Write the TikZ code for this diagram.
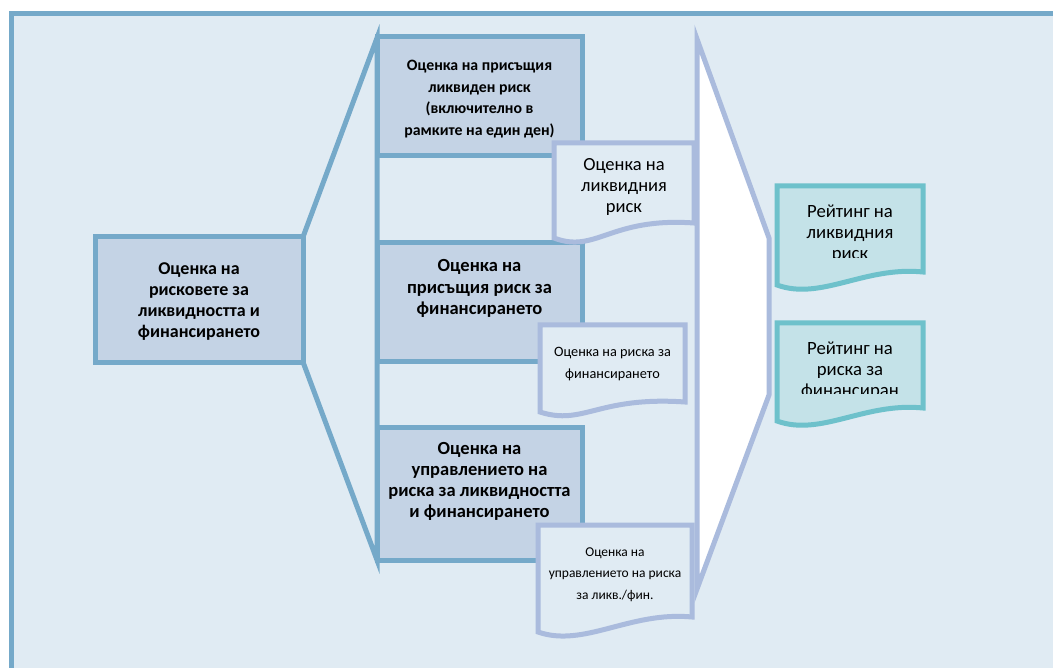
\documentclass[tikz,border=0pt]{standalone}
\usepackage{fontspec}
\setmainfont{Carlito}
\definecolor{bgc}{HTML}{E0EBF3}
\definecolor{steel}{HTML}{75A9C9}
\definecolor{boxfill}{HTML}{C4D3E5}
\definecolor{lav}{HTML}{AABBDD}
\definecolor{tealc}{HTML}{6EC1CB}
\definecolor{tealfill}{HTML}{C4E2E8}
\tikzset{
  frame/.style={draw=steel, fill=bgc, line width=5pt},
  funnel/.style={draw=steel, line width=5pt, line join=miter},
  bluebox/.style={draw=steel, fill=boxfill, line width=5pt, rectangle, inner sep=0pt},
  arrowshape/.style={draw=lav, fill=white, line width=5pt, line join=miter},
  docshape/.style={draw=lav, fill=bgc, line width=5pt, line join=miter},
  ratingshape/.style={draw=tealc, fill=tealfill, line width=5pt, line join=miter},
  txt/.style={align=center, inner sep=0pt, text=black}
}
\begin{document}
\begin{tikzpicture}[x=1pt,y=-1pt]
\useasboundingbox (0,0) rectangle (1053,668);
\clip (0,0) rectangle (1053,668);
% outer frame
\draw[frame] (11,13.5) rectangle (1090,700);
% funnel bracket
\draw[funnel] (303,237) -- (377,38) -- (377,560) -- (303,362);
% left box
\node[bluebox, minimum width=208pt, minimum height=126pt] (lbox) at (199,300) {};
\node[txt, font=\bfseries\fontsize{18}{21}\selectfont] (ltxt) at (199,302)
  {Оценка на\\рисковете за\\ликвидността и\\финансирането};
% column boxes
\node[bluebox, minimum width=205pt, minimum height=119pt] (b1) at (479.5,96.5) {};
\node[bluebox, minimum width=205pt, minimum height=119pt] (b2) at (479.5,302.5) {};
\node[bluebox, minimum width=205pt, minimum height=132pt] (b3) at (479.5,494) {};
\node[txt, font=\bfseries\fontsize{15.8}{21.5}\selectfont] (t1) at (479.5,99)
  {Оценка на присъщия\\ликвиден риск\\(включително в\\рамките на един ден)};
\node[txt, font=\bfseries\fontsize{18.5}{21.5}\selectfont] (t2) at (479.5,288.5)
  {Оценка на\\присъщия риск за\\финансирането};
\node[txt, font=\bfseries\fontsize{18.5}{21}\selectfont] (t3) at (479.5,481.5)
  {Оценка на\\управлението на\\риска за ликвидността\\и финансирането};
% white arrow
\draw[arrowshape] (697,39) -- (769,238) -- (769,395) -- (697,589) -- cycle;
% documents
\draw[docshape] (554,143) -- (694,143) -- (694,223)
  .. controls (610,223-6) and (596,238+16) .. (554,238) -- cycle;
\node[txt, font=\fontsize{18.5}{21}\selectfont] (d1) at (624,187)
  {Оценка на\\ликвидния\\риск};
\draw[docshape] (540,325) -- (685,325) -- (685,402)
  .. controls (598,402-6) and (583.5,412+14) .. (540,412) -- cycle;
\node[txt, font=\fontsize{14.3}{22}\selectfont] (d2) at (612.5,364.5)
  {Оценка на риска за\\финансирането};
\draw[docshape] (538,525) -- (692,525) -- (692,617)
  .. controls (630,617-6) and (584,632+16) .. (538,632) -- cycle;
\node[txt, font=\fontsize{13.5}{21.5}\selectfont] (d3) at (615,574.5)
  {Оценка на\\управлението на риска\\за ликв./фин.};
% rating documents
\draw[ratingshape] (777,186) -- (923,186) -- (923,272)
  .. controls (864.6,272-6) and (820.8,285+16) .. (777,285) -- cycle;
\begin{scope}
  \clip (770,186) rectangle (930,258);
  \node[txt, font=\fontsize{18.7}{21}\selectfont] (r1) at (850,233.5)
    {Рейтинг на\\ликвидния\\риск};
\end{scope}
\draw[ratingshape] (777,323) -- (923,323) -- (923,408)
  .. controls (864.6,408-6) and (820.8,421+16) .. (777,421) -- cycle;
\begin{scope}
  \clip (770,323) rectangle (930,394);
  \node[txt, font=\fontsize{18.7}{21}\selectfont] (r2) at (850,370.5)
    {Рейтинг на\\риска за\\финансиран};
\end{scope}
\end{tikzpicture}
\end{document}
